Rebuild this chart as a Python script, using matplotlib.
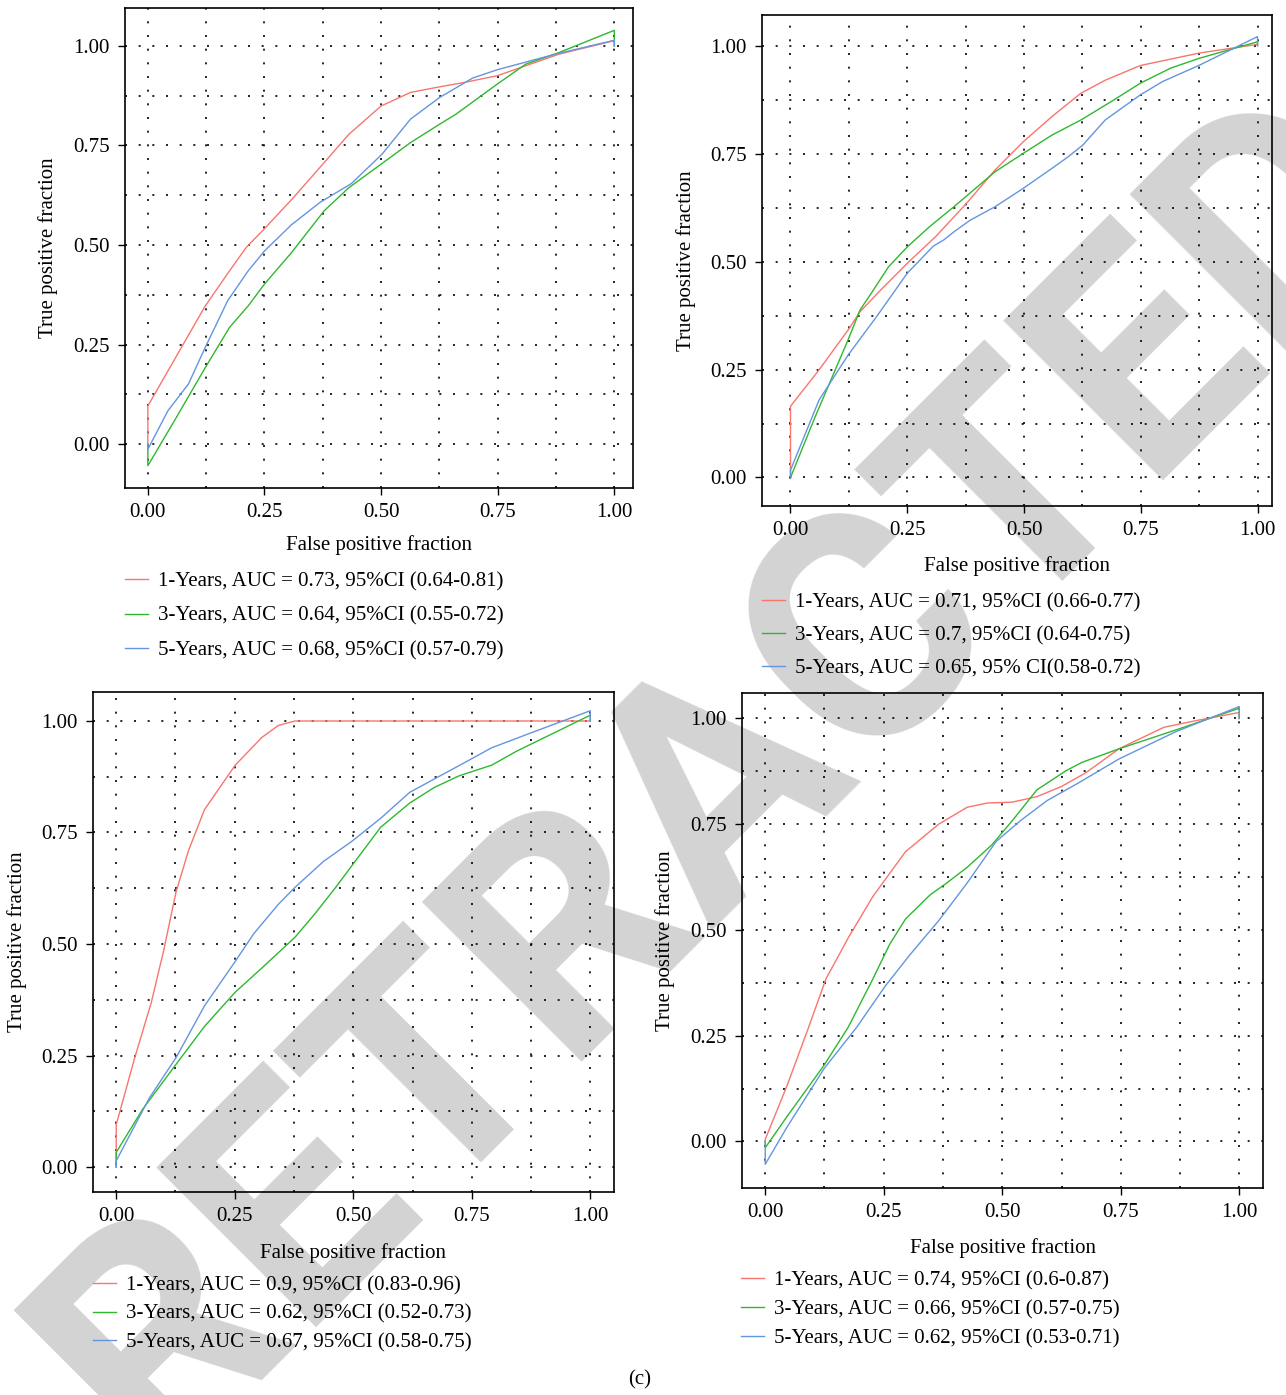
import matplotlib
matplotlib.use("Agg")
import matplotlib.pyplot as plt
from matplotlib.ticker import MultipleLocator

plt.rcParams['font.family'] = ['Liberation Serif', 'DejaVu Serif']

# ---------------- data ----------------
series_names = ["1-Years", "3-Years", "5-Years"]
colors = ["#F8766D", "#2FB82F", "#6495E0"]

# Panel A
a_red_x = [0, 0, 0.123, 0.175, 0.211, 0.25, 0.312, 0.378, 0.431, 0.5, 0.563, 0.625, 0.678, 0.749, 0.81, 0.881, 1.0, 1.0]
a_red_y = [0, 0.096, 0.347, 0.435, 0.494, 0.541, 0.619, 0.707, 0.778, 0.849, 0.883, 0.897, 0.908, 0.925, 0.95, 0.979, 1.013, 1.0]
a_grn_x = [0, 0, 0.061, 0.123, 0.175, 0.215, 0.25, 0.308, 0.378, 0.431, 0.5, 0.563, 0.625, 0.66, 0.749, 0.81, 0.881, 1.0, 1.0]
a_grn_y = [0, -0.054, 0.067, 0.192, 0.293, 0.347, 0.402, 0.481, 0.586, 0.644, 0.703, 0.757, 0.803, 0.828, 0.904, 0.954, 0.983, 1.039, 1.0]
a_blu_x = [0, 0, 0.043, 0.087, 0.123, 0.171, 0.215, 0.25, 0.308, 0.369, 0.436, 0.502, 0.563, 0.625, 0.696, 0.749, 0.873, 1.0, 1.0]
a_blu_y = [0, -0.013, 0.084, 0.151, 0.243, 0.36, 0.435, 0.485, 0.551, 0.607, 0.654, 0.728, 0.816, 0.870, 0.919, 0.94, 0.979, 1.014, 1.0]
a_labels = ["1-Years, AUC = 0.73, 95%CI (0.64-0.81)",
            "3-Years, AUC = 0.64, 95%CI (0.55-0.72)",
            "5-Years, AUC = 0.68, 95%CI (0.57-0.79)"]

# Panel B
b_red_x = [0, 0, 0.061, 0.123, 0.149, 0.193, 0.25, 0.311, 0.377, 0.438, 0.499, 0.56, 0.622, 0.674, 0.749, 0.876, 1.0]
b_red_y = [0, 0.165, 0.249, 0.341, 0.384, 0.434, 0.496, 0.558, 0.635, 0.712, 0.778, 0.836, 0.890, 0.920, 0.954, 0.983, 1.003]
b_grn_x = [0, 0.053, 0.123, 0.149, 0.175, 0.21, 0.25, 0.298, 0.35, 0.438, 0.499, 0.56, 0.622, 0.692, 0.749, 0.814, 0.876, 1.0, 1.0]
b_grn_y = [0, 0.141, 0.318, 0.388, 0.430, 0.488, 0.534, 0.581, 0.627, 0.708, 0.751, 0.793, 0.828, 0.874, 0.913, 0.948, 0.971, 1.009, 1.0]
b_blu_x = [0, 0, 0.061, 0.123, 0.184, 0.25, 0.306, 0.328, 0.35, 0.385, 0.438, 0.499, 0.56, 0.595, 0.626, 0.674, 0.749, 0.797, 0.876, 1.0, 1.0]
b_blu_y = [0, 0.017, 0.179, 0.283, 0.372, 0.473, 0.536, 0.550, 0.569, 0.596, 0.627, 0.670, 0.716, 0.743, 0.770, 0.828, 0.886, 0.917, 0.955, 1.021, 1.0]
b_labels = ["1-Years, AUC = 0.71, 95%CI (0.66-0.77)",
            "3-Years, AUC = 0.7, 95%CI (0.64-0.75)",
            "5-Years, AUC = 0.65, 95% CI(0.58-0.72)"]

# Panel C
c_red_x = [0, 0, 0.039, 0.074, 0.10, 0.126, 0.152, 0.186, 0.221, 0.251, 0.307, 0.342, 0.377, 1.0]
c_red_y = [0, 0.095, 0.245, 0.369, 0.485, 0.616, 0.708, 0.801, 0.855, 0.901, 0.963, 0.990, 1.0, 1.0]
c_grn_x = [0, 0, 0.056, 0.126, 0.186, 0.251, 0.307, 0.377, 0.42, 0.463, 0.498, 0.558, 0.619, 0.671, 0.723, 0.792, 0.844, 1.0, 1.0]
c_grn_y = [0, 0.033, 0.130, 0.230, 0.315, 0.392, 0.446, 0.515, 0.569, 0.627, 0.677, 0.762, 0.816, 0.851, 0.877, 0.901, 0.932, 1.013, 1.0]
c_blu_x = [0, 0, 0.07, 0.126, 0.186, 0.251, 0.29, 0.342, 0.377, 0.437, 0.498, 0.558, 0.619, 0.671, 0.732, 0.792, 0.879, 1.0, 1.0]
c_blu_y = [0, 0.014, 0.155, 0.245, 0.361, 0.461, 0.523, 0.589, 0.627, 0.685, 0.731, 0.782, 0.840, 0.870, 0.905, 0.940, 0.975, 1.023, 1.0]
c_labels = ["1-Years, AUC = 0.9, 95%CI (0.83-0.96)",
            "3-Years, AUC = 0.62, 95%CI (0.52-0.73)",
            "5-Years, AUC = 0.67, 95%CI (0.58-0.75)"]

# Panel D
d_red_x = [0, 0, 0.046, 0.089, 0.128, 0.175, 0.227, 0.296, 0.366, 0.426, 0.469, 0.521, 0.573, 0.625, 0.677, 0.746, 0.841, 0.91, 1.0, 1.0]
d_red_y = [0, 0.005, 0.132, 0.262, 0.384, 0.481, 0.579, 0.685, 0.750, 0.790, 0.80, 0.802, 0.815, 0.839, 0.872, 0.928, 0.979, 0.995, 1.014, 1.0]
d_grn_x = [0, 0, 0.046, 0.124, 0.175, 0.227, 0.262, 0.296, 0.348, 0.383, 0.426, 0.478, 0.521, 0.573, 0.634, 0.668, 0.746, 0.867, 1.0, 1.0]
d_grn_y = [0, -0.015, 0.059, 0.180, 0.270, 0.384, 0.465, 0.526, 0.583, 0.611, 0.648, 0.701, 0.758, 0.831, 0.876, 0.896, 0.928, 0.973, 1.024, 1.0]
d_blu_x = [0, 0, 0.046, 0.124, 0.193, 0.253, 0.305, 0.366, 0.426, 0.487, 0.538, 0.595, 0.66, 0.746, 0.867, 1.0, 1.0]
d_blu_y = [0, -0.054, 0.034, 0.172, 0.270, 0.367, 0.441, 0.522, 0.611, 0.709, 0.758, 0.806, 0.847, 0.904, 0.969, 1.028, 1.0]
d_labels = ["1-Years, AUC = 0.74, 95%CI (0.6-0.87)",
            "3-Years, AUC = 0.66, 95%CI (0.57-0.75)",
            "5-Years, AUC = 0.62, 95%CI (0.53-0.71)"]

tick_vals = [0.0, 0.25, 0.5, 0.75, 1.0]
tick_labels = ["0.00", "0.25", "0.50", "0.75", "1.00"]

# ---------------- figure ----------------
W, H = 1286, 1395
fig = plt.figure(figsize=(W / 100, H / 100), dpi=100)

def px_rect(l, t, r, b):
    return [l / W, 1 - b / H, (r - l) / W, (b - t) / H]

panels = [
    dict(rect=px_rect(125, 8, 633, 488), xlim=(-0.049, 1.04), ylim=(-0.11, 1.095),
         data=[(a_red_x, a_red_y), (a_grn_x, a_grn_y), (a_blu_x, a_blu_y)], labels=a_labels,
         xlab_y=545, ylab_x=48, leg=(125, 572), spacing=0.71),
    dict(rect=px_rect(762, 15, 1272, 506), xlim=(-0.061, 1.031), ylim=(-0.066, 1.071),
         data=[(b_red_x, b_red_y), (b_grn_x, b_grn_y), (b_blu_x, b_blu_y)], labels=b_labels,
         xlab_y=566, ylab_x=686, leg=(762, 593), spacing=0.64),
    dict(rect=px_rect(93, 692, 614, 1192), xlim=(-0.049, 1.05), ylim=(-0.056, 1.065),
         data=[(c_red_x, c_red_y), (c_grn_x, c_grn_y), (c_blu_x, c_blu_y)], labels=c_labels,
         xlab_y=1253, ylab_x=17, leg=(93, 1276), spacing=0.42),
    dict(rect=px_rect(742, 693, 1263, 1188), xlim=(-0.049, 1.05), ylim=(-0.11, 1.06),
         data=[(d_red_x, d_red_y), (d_grn_x, d_grn_y), (d_blu_x, d_blu_y)], labels=d_labels,
         xlab_y=1248, ylab_x=665, leg=(741, 1271), spacing=0.45),
]

FS = 15
for p in panels:
    ax = fig.add_axes(p["rect"])
    ax.set_facecolor("none")
    handles = []
    for (xs, ys), c, lab in zip(p["data"], colors, p["labels"]):
        h, = ax.plot(xs, ys, color=c, lw=1.0, label=lab, zorder=3)
        handles.append(h)
    ax.set_xlim(*p["xlim"])
    ax.set_ylim(*p["ylim"])
    ax.set_xticks(tick_vals)
    ax.set_xticklabels(tick_labels)
    ax.set_yticks(tick_vals)
    ax.set_yticklabels(tick_labels)
    ax.xaxis.set_minor_locator(MultipleLocator(0.125))
    ax.yaxis.set_minor_locator(MultipleLocator(0.125))
    ax.grid(True, which="both", color="black", linestyle=(0, (1.2, 7)), linewidth=1.2, zorder=1)
    ax.tick_params(which="minor", length=0)
    ax.tick_params(which="major", length=5, width=1, color="black", labelsize=FS, pad=6)
    for s in ax.spines.values():
        s.set_linewidth(1.2)
        s.set_color("black")
    cx = (p["rect"][0] + p["rect"][2] / 2)
    fig.text(cx, 1 - p["xlab_y"] / H, "False positive fraction", ha="center", va="center", fontsize=FS)
    cy = p["rect"][1] + p["rect"][3] / 2
    fig.text(p["ylab_x"] / W, cy, "True positive fraction", ha="center", va="center",
             rotation=90, fontsize=FS)
    lx, ly = p["leg"]
    fig.legend(handles=handles, loc="upper left", bbox_to_anchor=(lx / W, 1 - ly / H),
               frameon=False, fontsize=FS, handlelength=1.1, handletextpad=0.48,
               labelspacing=p["spacing"], borderaxespad=0, borderpad=0)

fig.text(640 / W, 1 - 1380 / H, "(c)", ha="center", va="center", fontsize=FS)

# watermark: baseline along x + y ~ 1625 px at 45 degrees
fig.text(785 / W, 1 - 838 / H, "RETRACTED", ha="center", va="baseline", rotation=45,
         rotation_mode="anchor", fontsize=229, fontweight="bold", family=["Roboto", "Liberation Sans"],
         color="#D3D3D3", zorder=-5)

fig.savefig("out.png", dpi=100)
